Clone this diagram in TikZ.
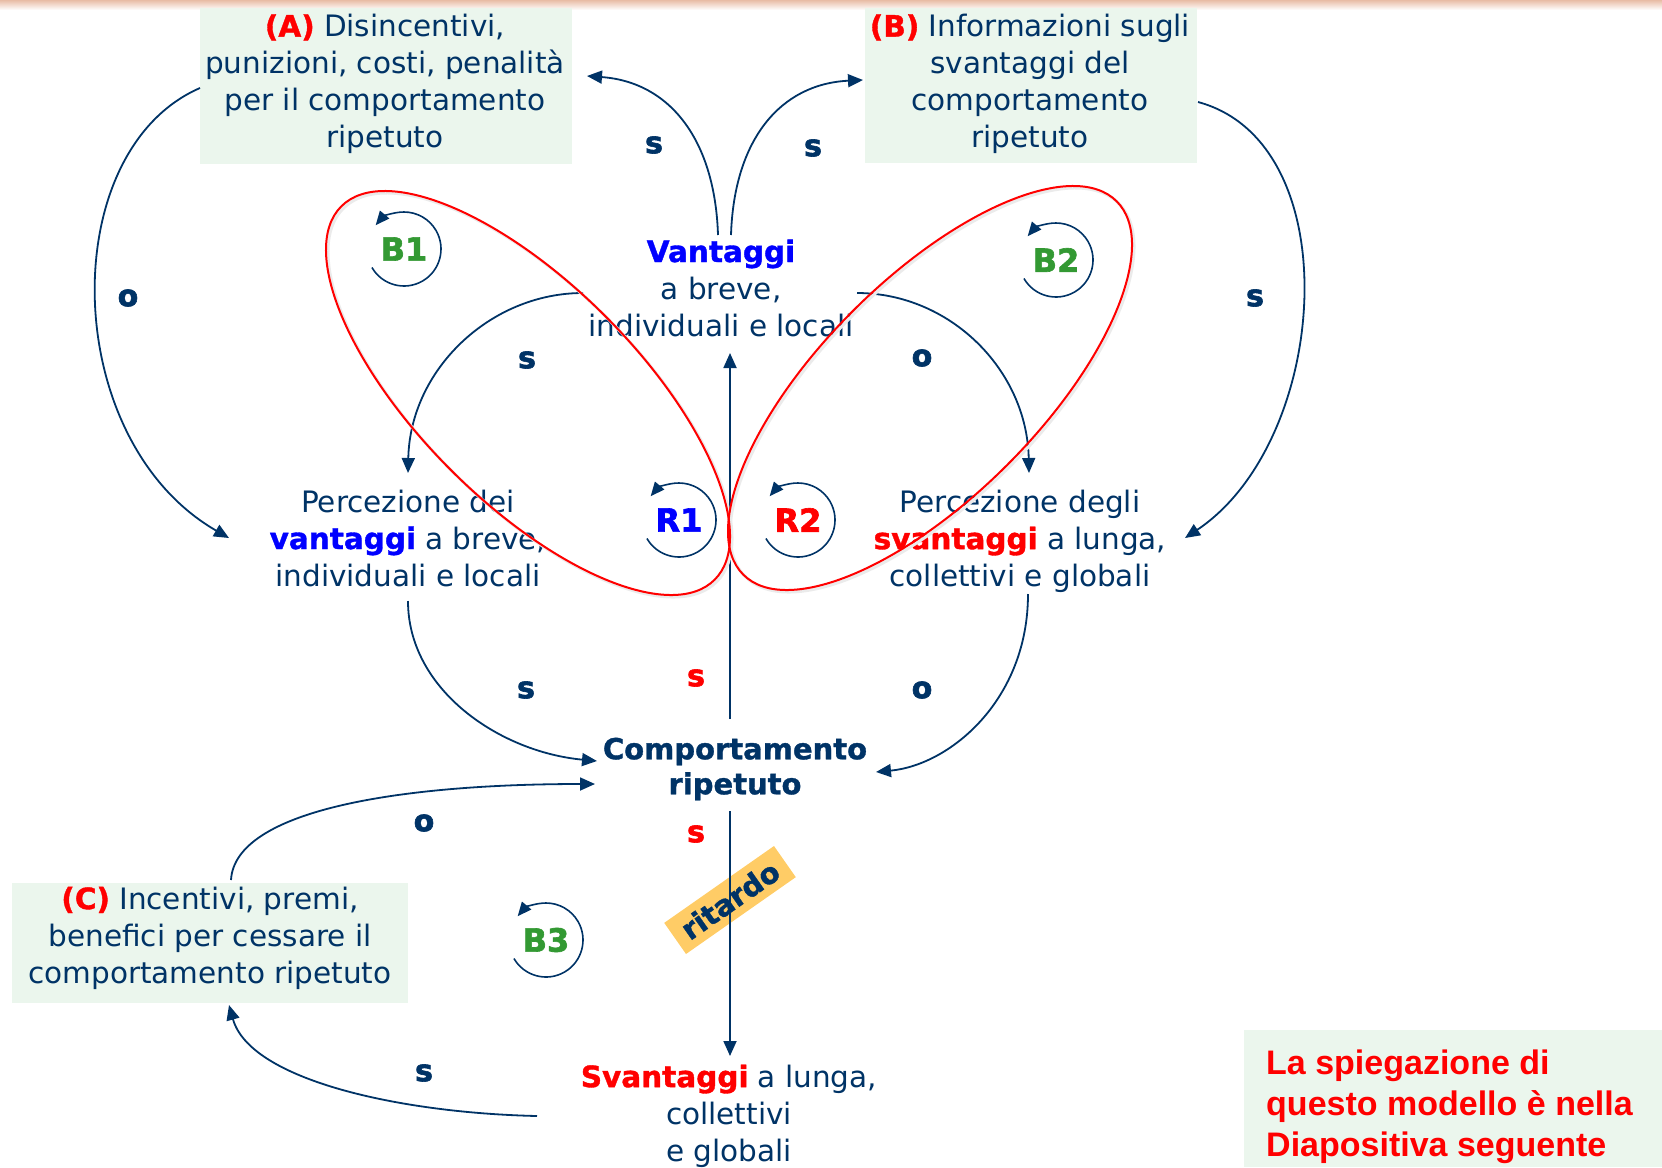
\documentclass[tikz,border=0pt]{standalone}
\usepackage{fontspec}
\setmainfont{DejaVu Sans}[BoldFeatures={FakeBold=1.2}]
\newfontfamily\notefont{Liberation Sans}
\newfontfamily\heavyfont{DejaVu Sans Bold}[FakeBold=2]
\usetikzlibrary{arrows.meta}
\definecolor{navy}{RGB}{0,51,102}
\definecolor{vblue}{RGB}{0,0,255}
\definecolor{loopgreen}{RGB}{51,153,51}
\definecolor{panelgreen}{RGB}{235,246,237}
\definecolor{delayorange}{RGB}{255,204,102}
\definecolor{peach}{RGB}{232,188,165}
% small circular loop marker drawn around a label node
\newcommand\cyclemark[1]{%
  \begin{scope}[shift={(#1.center)},x=1pt,y=1pt]
    \draw[cyclearrow] (210:37) arc[start angle=210,end angle=500,radius=37];
  \end{scope}}
\begin{document}
\begin{tikzpicture}[x=1pt,y=-1pt,
  txt/.style={font=\fontsize{29.5}{37}\selectfont, text=navy, align=center, inner sep=0pt},
  lab/.style={font=\heavyfont\fontsize{30}{37}\selectfont, text=navy, inner sep=0pt},
  looplab/.style={font=\heavyfont\fontsize{32}{37}\selectfont, inner sep=0pt},
  panel/.style={fill=panelgreen, draw=none, inner sep=0pt},
  link/.style={draw=navy, line width=1.8pt, -{Triangle[length=15pt,width=13pt]}},
  cyclearrow/.style={draw=navy, line width=1.6pt, -{Triangle[length=14pt,width=12pt]}},
  zone/.style={draw=red, line width=2pt},
  zoneshadow/.style={draw=black!8, line width=3pt},
]
\useasboundingbox (0,0) rectangle (1662,1167);
\shade[top color=peach, bottom color=white] (0,0) rectangle (1662,10);

% shaded panels
\node[panel, minimum width=372, minimum height=156] (boxA) at (386,86) {};
\node[panel, minimum width=332, minimum height=155] (boxB) at (1031,85.5) {};
\node[panel, minimum width=396, minimum height=120] (boxC) at (210,943) {};
\node[panel, minimum width=418, minimum height=137] (boxN) at (1453,1098.5) {};

% texts
\node[txt] (tA) at (385,84) {{\color{red}\bfseries(A)} Disincentivi,\\punizioni, costi, penalità\\per il comportamento\\ripetuto};
\node[txt] (tB) at (1030,84) {{\color{red}\bfseries(B)} Informazioni sugli\\svantaggi del\\comportamento\\ripetuto};
\node[txt] (tC) at (210,938) {{\color{red}\bfseries(C)} Incentivi, premi,\\benefici per cessare il\\comportamento ripetuto};
\node[txt] (vant) at (721,288) {{\color{vblue}\bfseries Vantaggi}\\a breve,\\individuali e locali};
\node[txt] (percV) at (408,538) {Percezione dei\\{\color{vblue}\bfseries vantaggi} a breve,\\individuali e locali};
\node[txt] (percS) at (1020,541) {Percezione degli\\{\color{red}\bfseries svantaggi} a lunga,\\collettivi e globali};
\node[txt, font=\fontsize{29}{35}\selectfont\bfseries] (comp) at (735,769) {Comportamento\\ripetuto};
\node[txt] (svant) at (729,1116) {{\color{red}\bfseries Svantaggi} a lunga,\\collettivi\\e globali};
\node[anchor=west, align=left, inner sep=0pt, text=red, font=\notefont\fontsize{34}{41}\selectfont\bfseries] (note) at (1266,1107) {La spiegazione di\\questo modello è nella\\Diapositiva seguente};

% delay tag on the lower link
\node[rotate=35, fill=delayorange, minimum width=134, minimum height=38, inner sep=0pt,
      font=\fontsize{29}{35}\selectfont\bfseries, text=navy] (delay) at (730,900) {ritardo};

% connector end points
\coordinate (vA) at (718,235);   \coordinate (Ain) at (587,76);
\coordinate (vB) at (731,235);   \coordinate (Bin) at (863,80);
\coordinate (Aout) at (200,88);  \coordinate (pVinA) at (229,538);
\coordinate (Bout) at (1198,102); \coordinate (pSinB) at (1185,538);
\coordinate (vPV) at (583,293);  \coordinate (pVtop) at (408,473);
\coordinate (vPS) at (857,293);  \coordinate (pStop) at (1029,473);
\coordinate (pVout) at (408,601); \coordinate (cinV) at (597,761);
\coordinate (pSout) at (1028,594); \coordinate (cinS) at (876,772);
\coordinate (Cout) at (231,880); \coordinate (cinC) at (595,784);
\coordinate (svout) at (537,1116); \coordinate (Cin) at (229,1005);
\coordinate (cup) at (730,719);  \coordinate (vbot) at (730,353);
\coordinate (cdown) at (730,811); \coordinate (svtop) at (730,1056);

% links
\draw[link] (vA) .. controls (715,140) and (670,82) .. (Ain);
\draw[link] (vB) .. controls (734,140) and (780,84) .. (Bin);
\draw[link] (Aout) .. controls (55,151) and (59,440) .. (pVinA);
\draw[link] (Bout) .. controls (1350,143) and (1330,441) .. (pSinB);
\draw[link] (vPV) .. controls (490,293) and (410,370) .. (pVtop);
\draw[link] (vPS) .. controls (950,293) and (1027,370) .. (pStop);
\draw[link] (pVout) .. controls (408,690) and (500,752) .. (cinV);
\draw[link] (pSout) .. controls (1028,700) and (950,765) .. (cinS);
\draw[link] (Cout) .. controls (235,810) and (400,784) .. (cinC);
\draw[link] (svout) .. controls (400,1113) and (250,1080) .. (Cin);
\draw[link] (cup) -- (vbot);
\draw[link] (cdown) -- (svtop);

% polarity labels
\node[lab] (sA) at (654,145) {s};
\node[lab] (sB) at (813,148) {s};
\node[lab] (oA) at (128,298) {o};
\node[lab] (sBr) at (1255,298) {s};
\node[lab] (sPV) at (527,360) {s};
\node[lab] (oPS) at (922,358) {o};
\node[lab] (sPVc) at (526,690) {s};
\node[lab] (oPSc) at (922,690) {o};
\node[lab, text=red] (sUp) at (696,678) {s};
\node[lab, text=red] (sDown) at (696,834) {s};
\node[lab] (oC) at (424,823) {o};
\node[lab] (sC) at (424,1073) {s};

% loop markers
\node[looplab, text=loopgreen] (B1) at (404,249) {B1};
\node[looplab, text=vblue] (R1) at (679,520) {R1};
\node[looplab, text=red] (R2) at (798,520) {R2};
\node[looplab, text=loopgreen] (B2) at (1056,260) {B2};
\node[looplab, text=loopgreen] (B3) at (546,940) {B3};
\cyclemark{B1}
\cyclemark{R1}
\cyclemark{R2}
\cyclemark{B2}
\cyclemark{B3}

% loop groupings
\draw[zoneshadow, rotate around={-45:(530,395)}] (530,395) ellipse[x radius=264, y radius=109];
\draw[zoneshadow, rotate around={45:(932,390)}] (932,390) ellipse[x radius=264, y radius=109];
\draw[zone, rotate around={-45:(528,393)}] (528,393) ellipse[x radius=264, y radius=109];
\draw[zone, rotate around={45:(930,388)}] (930,388) ellipse[x radius=264, y radius=109];
\end{tikzpicture}
\end{document}
